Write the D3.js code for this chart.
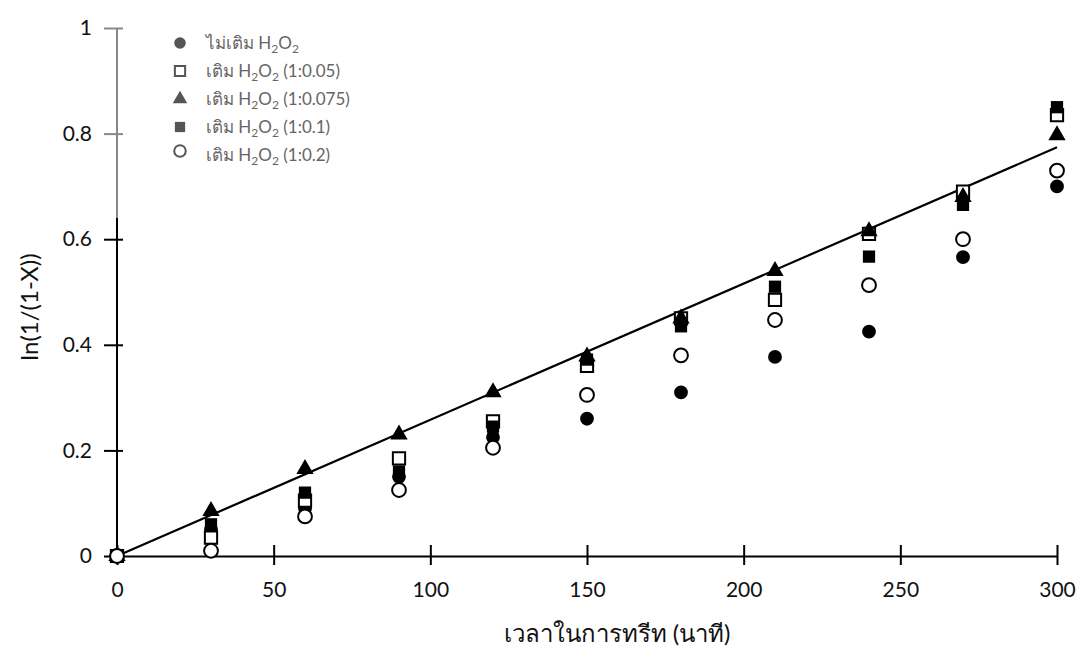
<!DOCTYPE html>
<html>
<head>
<meta charset="utf-8">
<script src="https://cdn.jsdelivr.net/npm/d3@7"></script>
<style>
  body { margin: 0; background: #fff; }
  svg text { font-family: Lato, "Open Sans", "Noto Sans", sans-serif; }
</style>
</head>
<body>
<div id="chart"></div>
<script>
(function () {

    const times = [0, 30, 60, 90, 120, 150, 180, 210, 240, 270, 300];

    const noPeroxide = [0, 0.05, 0.09, 0.15, 0.225, 0.26, 0.31, 0.377, 0.425, 0.566, 0.70];
    const ratio005 = [0, 0.035, 0.105, 0.185, 0.255, 0.36, 0.45, 0.485, 0.61, 0.69, 0.835];
    const ratio0075 = [0, 0.085, 0.165, 0.23, 0.31, 0.378, 0.45, 0.54, 0.615, 0.68, 0.797];
    const ratio01 = [0, 0.06, 0.12, 0.16, 0.245, 0.372, 0.435, 0.51, 0.567, 0.665, 0.85];
    const ratio02 = [0, 0.01, 0.075, 0.125, 0.205, 0.305, 0.38, 0.447, 0.513, 0.60, 0.73];

    const seriesNames = ['ไม่เติม', 'เติม', 'เติม', 'เติม', 'เติม'];
    const seriesRatios = ['', '(1:0.05)', '(1:0.075)', '(1:0.1)', '(1:0.2)'];

    const xTicks = [0, 50, 100, 150, 200, 250, 300];
    const yTicks = [0, 0.2, 0.4, 0.6, 0.8, 1];

    // fitted line y = slope * t
    const trendSlope = 0.00258;
    const trendRange = [0, 300];

    const width = 1086,
      height = 653,
      margin = { top: 28, right: 29, bottom: 97, left: 117 },
      chartWidth = width - margin.left - margin.right,
      chartHeight = height - margin.top - margin.bottom;

    const series = [
      { values: noPeroxide, shape: 'circle', filled: true },
      { values: ratio005, shape: 'square', filled: false },
      { values: ratio0075, shape: 'triangle', filled: true },
      { values: ratio01, shape: 'square', filled: true },
      { values: ratio02, shape: 'circle', filled: false }
    ];

    const x = d3.scaleLinear().domain([0, 300]).range([0, chartWidth]);
    const y = d3.scaleLinear().domain([0, 1]).range([chartHeight, 0]);

    const svg = d3
      .select('#chart')
      .append('svg')
      .attr('width', width)
      .attr('height', height);

    const chart = svg
      .append('g')
      .attr('transform', `translate(${margin.left}, ${margin.top})`);

    // axes: ticks cross the line
    const xAxis = d3.axisBottom(x).tickValues(xTicks).tickSize(0).tickPadding(26);
    const gx = chart
      .append('g')
      .attr('transform', `translate(0, ${chartHeight})`)
      .call(xAxis);
    gx.select('.domain').attr('stroke', '#000').attr('stroke-width', 2);
    gx.selectAll('.tick line')
      .attr('y1', -11)
      .attr('y2', 9)
      .attr('stroke', '#000')
      .attr('stroke-width', 2);
    gx.selectAll('text')
      .attr('font-size', 21)
      .attr('fill', '#111');

    const yAxis = d3.axisLeft(y).tickValues(yTicks).tickSize(0).tickPadding(25)
      .tickFormat(d => d);
    const gy = chart.append('g').call(yAxis);
    gy.select('.domain').remove();
    gy.selectAll('.tick line')
      .attr('x1', -13)
      .attr('x2', 6)
      .attr('stroke', d => (d > 0.7 ? '#888' : '#000'))
      .attr('stroke-width', 2);
    gy.selectAll('text')
      .attr('font-size', 21)
      .attr('fill', '#111');

    // y axis line: upper part faded like the scan
    chart.append('line')
      .attr('x1', 0).attr('x2', 0)
      .attr('y1', y(0)).attr('y2', y(0.64))
      .attr('stroke', '#000').attr('stroke-width', 2);
    chart.append('line')
      .attr('x1', 0).attr('x2', 0)
      .attr('y1', y(0.64)).attr('y2', y(1))
      .attr('stroke', '#888').attr('stroke-width', 2);

    // trend line
    chart.append('line')
      .attr('x1', x(trendRange[0]))
      .attr('y1', y(trendSlope * trendRange[0]))
      .attr('x2', x(trendRange[1]))
      .attr('y2', y(trendSlope * trendRange[1]))
      .attr('stroke', '#000')
      .attr('stroke-width', 2.2);

    const symbolFor = (s, k) => {
      if (s.shape === 'circle') return d3.symbol(d3.symbolCircle, 150 * k)();
      if (s.shape === 'square') return d3.symbol(d3.symbolSquare, 150 * k)();
      return d3.symbol(d3.symbolTriangle, 130 * k)();
    };

    const drawMarker = (g, s, cx, cy, color, k) => {
      g.append('path')
        .attr('d', symbolFor(s, k))
        .attr('transform', `translate(${cx}, ${cy})`)
        .attr('fill', s.filled ? color : '#fff')
        .attr('stroke', color)
        .attr('stroke-width', s.filled ? 0 : 2);
    };

    series.forEach(s => {
      const g = chart.append('g');
      s.values.forEach((v, i) => drawMarker(g, s, x(times[i]), y(v), '#000', 1));
    });

    // legend
    const legend = chart.append('g').attr('transform', 'translate(63, 15)');
    series.forEach((s, i) => {
      const row = legend.append('g').attr('transform', `translate(0, ${i * 28})`);
      drawMarker(row, s, 0, i === 4 ? -4 : 0, '#555', 0.7);
      const t = row.append('text')
        .attr('x', 26)
        .attr('y', 0)
        .attr('dy', '0.35em')
        .attr('font-size', 17)
        .attr('fill', '#666');
      t.append('tspan').text(seriesNames[i] + ' H');
      t.append('tspan').attr('font-size', 12).attr('dy', 4).text('2');
      t.append('tspan').attr('dy', -4).text('O');
      t.append('tspan').attr('font-size', 12).attr('dy', 4).text('2');
      t.append('tspan').attr('dy', -4).text(seriesRatios[i] ? ' ' + seriesRatios[i] : '');
    });

    // axis titles
    svg.append('text')
      .attr('x', margin.left + chartWidth / 2 + 30)
      .attr('y', 642)
      .attr('text-anchor', 'middle')
      .attr('font-size', 24)
      .attr('fill', '#111')
      .text('เวลาในการทรีท (นาที)');

    svg.append('text')
      .attr('transform', `translate(38, ${margin.top + chartHeight / 2 + 15}) rotate(-90)`)
      .attr('text-anchor', 'middle')
      .attr('font-size', 24)
      .attr('fill', '#111')
      .text('ln(1/(1-X))');

}) ();
</script>
</body>
</html>
